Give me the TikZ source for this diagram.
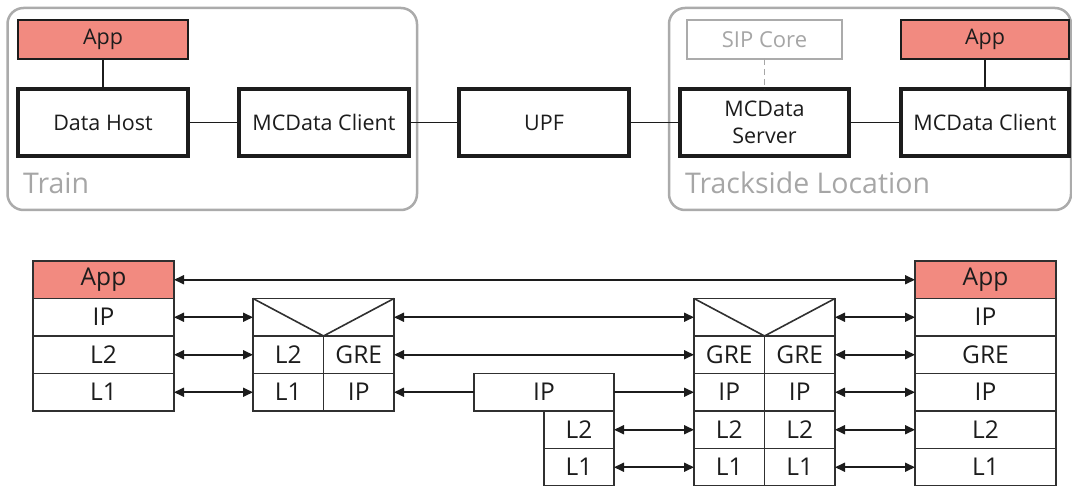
\documentclass[tikz,border=0pt]{standalone}
\usepackage{fontspec}
\setmainfont{Open Sans}
\usetikzlibrary{arrows.meta}
\definecolor{appred}{HTML}{F28A80}
\definecolor{regiongray}{HTML}{ABABAB}
\definecolor{labelgray}{HTML}{A6A6A6}
\definecolor{ink}{HTML}{1C1C1C}
\definecolor{cellink}{HTML}{303030}
\tikzset{
  region/.style={draw=regiongray, line width=2.5pt, rounded corners=16pt},
  regionlabel/.style={text=labelgray, font=\fontsize{28.5}{32}\selectfont, anchor=west, inner sep=0pt},
  entity/.style={draw=ink, line width=3.2pt, fill=white, minimum width=170pt, minimum height=67pt,
    inner sep=0pt, outer sep=0pt, align=center, font=\fontsize{21.5}{25}\selectfont, text=ink},
  appbox/.style={draw=ink, line width=1.2pt, fill=appred, minimum width=170pt, minimum height=39pt,
    inner sep=0pt, outer sep=0pt, font=\fontsize{21.5}{25}\selectfont, text=ink},
  sipbox/.style={draw=regiongray, line width=1.2pt, fill=white, minimum width=155pt, minimum height=39pt,
    inner sep=0pt, outer sep=0pt, font=\fontsize{22}{25}\selectfont, text=labelgray},
  link/.style={draw=ink, line width=1.6pt},
  cell/.style={draw=cellink, line width=1.8pt, minimum height=37.5pt, inner sep=0pt, outer sep=0pt,
    font=\fontsize{24.5}{28}\selectfont, text=ink},
  wide/.style={cell, minimum width=141pt},
  half/.style={cell, minimum width=70.5pt},
  appcell/.style={wide, fill=appred},
  both/.style={draw=ink, line width=1.7pt, {Triangle[length=10pt,width=9pt]}-{Triangle[length=10pt,width=9pt]}},
  tohead/.style={draw=ink, line width=1.7pt, -{Triangle[length=10pt,width=9pt]}},
}
\begin{document}
\begin{tikzpicture}[x=1pt, y=-1pt]
\useasboundingbox (0,0) rectangle (1072,486);

% ---------------- upper part: functional entities ----------------
\draw[region] (7.5,8) rectangle (417,210);
\draw[region] (669,8) rectangle (1071,210);
\node[regionlabel] (trainlbl) at (23,183) {Train};
\node[regionlabel] (tracklbl) at (685,183) {Trackside Location};

\node[appbox] (appL) at (103,39.5) {App};
\node[entity] (host) at (103,122.5) {Data Host};
\node[entity] (clientL) at (324,122.5) {MCData Client};
\node[entity] (upf) at (544,122.5) {UPF};
\node[entity, minimum width=169pt] (server) at (764.5,122.5) {MCData\\[2pt]Server};
\node[entity, minimum width=168pt] (clientR) at (985,122.5) {MCData Client};
\node[sipbox] (sip) at (764.5,39.5) {SIP Core};
\node[appbox, minimum width=168pt] (appR) at (985,39.5) {App};

\draw[link] (appL.south) -- (host.north);
\draw[link] (host.east) -- (clientL.west);
\draw[link] (clientL.east) -- (upf.west);
\draw[link] (upf.east) -- (server.west);
\draw[link] (server.east) -- (clientR.west);
\draw[link] (appR.south) -- (clientR.north);
\draw[draw=labelgray, line width=1.5pt, dash pattern=on 6pt off 4pt] (sip.south) -- (server.north);

% ---------------- lower part: protocol stacks ----------------
% train terminal
\node[appcell] (tApp) at (103.5,279.75) {App};
\node[wide] (tIP) at (103.5,317.25) {IP};
\node[wide] (tL2) at (103.5,354.75) {L2};
\node[wide] (tL1) at (103.5,392.25) {L1};

% on-board gateway
\node[wide] (gTop) at (323.5,317.25) {};
\node[half] (gL2) at (288.25,354.75) {L2};
\node[half] (gGRE) at (358.75,354.75) {GRE};
\node[half] (gL1) at (288.25,392.25) {L1};
\node[half] (gIP) at (358.75,392.25) {IP};
\draw[cellink, line width=1.6pt] (gTop.north west) -- (gTop.south) -- (gTop.north east);

% user plane function
\node[cell, minimum width=140pt] (uIP) at (544,392.25) {IP};
\node[half, minimum width=70pt] (uL2) at (579,429.75) {L2};
\node[half, minimum width=70pt] (uL1) at (579,467.25) {L1};

% server-side gateway
\node[wide] (sTop) at (764.5,317.25) {};
\node[half] (sGREa) at (729.25,354.75) {GRE};
\node[half] (sGREb) at (799.75,354.75) {GRE};
\node[half] (sIPa) at (729.25,392.25) {IP};
\node[half] (sIPb) at (799.75,392.25) {IP};
\node[half] (sL2a) at (729.25,429.75) {L2};
\node[half] (sL2b) at (799.75,429.75) {L2};
\node[half] (sL1a) at (729.25,467.25) {L1};
\node[half] (sL1b) at (799.75,467.25) {L1};
\draw[cellink, line width=1.6pt] (sTop.north west) -- (sTop.south) -- (sTop.north east);

% trackside client
\node[appcell] (rApp) at (985.5,279.75) {App};
\node[wide] (rIP) at (985.5,317.25) {IP};
\node[wide] (rGRE) at (985.5,354.75) {GRE};
\node[wide] (rIP2) at (985.5,392.25) {IP};
\node[wide] (rL2) at (985.5,429.75) {L2};
\node[wide] (rL1) at (985.5,467.25) {L1};

% peer relations
\draw[both] (tApp.east) -- (rApp.west);
\draw[both] (tIP.east) -- (gTop.west);
\draw[both] (tL2.east) -- (gL2.west);
\draw[both] (tL1.east) -- (gL1.west);
\draw[both] (gTop.east) -- (sTop.west);
\draw[both] (gGRE.east) -- (sGREa.west);
\draw[tohead] (uIP.west) -- (gIP.east);
\draw[tohead] (uIP.east) -- (sIPa.west);
\draw[both] (uL2.east) -- (sL2a.west);
\draw[both] (uL1.east) -- (sL1a.west);
\draw[both] (sTop.east) -- (rIP.west);
\draw[both] (sGREb.east) -- (rGRE.west);
\draw[both] (sIPb.east) -- (rIP2.west);
\draw[both] (sL2b.east) -- (rL2.west);
\draw[both] (sL1b.east) -- (rL1.west);
\end{tikzpicture}
\end{document}
